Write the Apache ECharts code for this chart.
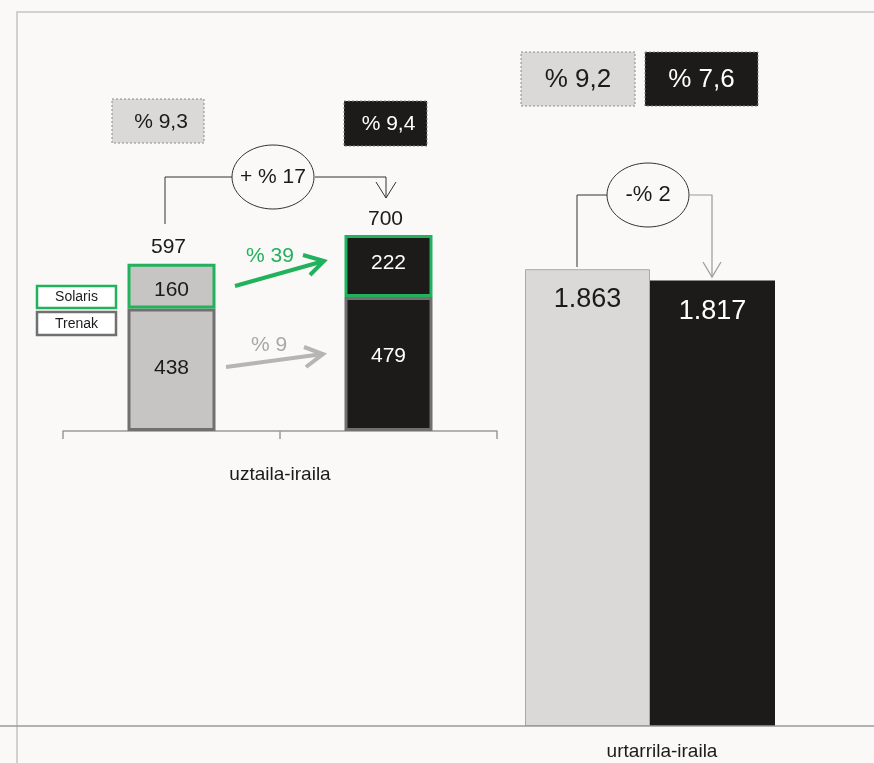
<!DOCTYPE html>
<html>
<head>
<meta charset="utf-8">
<script src="https://cdn.jsdelivr.net/npm/echarts@6/dist/echarts.min.js"></script>
<style>
html,body{margin:0;padding:0;background:#faf9f7;}
#c{width:874px;height:763px;}
</style>
</head>
<body>
<div id="c"></div>
<script>
// ---- data ----
const quarterLabel = 'uztaila-iraila';
const quarterPeriods = ['aurrekoa', 'aurtengoa'];
const trenak = [438, 479];
const solaris = [160, 222];
const quarterTotals = [597, 700];
const quarterShares = ['% 9,3', '% 9,4'];
const quarterChange = '+ % 17';
const solarisChange = '% 39';
const trenakChange = '% 9';

const ytdCategories = ['urtarrila-iraila'];
const ytdPrev = [1863];
const ytdCurr = [1817];
const ytdShares = ['% 9,2', '% 7,6'];
const ytdChange = '-% 2';

const legendNames = ['Solaris', 'Trenak'];

// ---- style ----
const FONT = '"Liberation Sans Narrow","Arial Narrow","Liberation Sans",Arial,sans-serif';
const BG = '#faf9f7';
const DARK = '#1c1b19';
const MID = '#c6c5c3';
const LIGHT = '#dad9d7';
const GREEN = '#22b15c';
const GREY = '#707070';
const qFill = [MID, DARK];
const qText = [DARK, '#ffffff'];
const trenakLabelShift = [[0, -2], [0, -8]];
const solarisLabelShift = [[0, 4], [0, -3]];

const fmt = v => String(v).replace(/\B(?=(\d{3})+(?!\d))/g, '.');

const chart = echarts.init(document.getElementById('c'));

function box(x, y, w, h, fill, txt, txtColor, size, dx) {
  return {
    type: 'group', z: 50,
    children: [
      {type: 'rect', shape: {x: x, y: y, width: w, height: h},
       style: {fill: fill, stroke: '#8a8a8a', lineWidth: 1, lineDash: [2, 2]}},
      {type: 'text', x: x + w / 2 + (dx || 0), y: y + h / 2 + 1,
       style: {text: txt, fill: txtColor, font: size + 'px ' + FONT, align: 'center', verticalAlign: 'middle'}}
    ]
  };
}

function ellipse(cx, cy, rx, ry, txt, size) {
  return {
    type: 'group', z: 50,
    children: [
      {type: 'ellipse', shape: {cx: cx, cy: cy, rx: rx, ry: ry},
       style: {fill: BG, stroke: '#333', lineWidth: 1}},
      {type: 'text', x: cx, y: cy,
       style: {text: txt, fill: DARK, font: size + 'px ' + FONT, align: 'center', verticalAlign: 'middle'}}
    ]
  };
}

function line(points, color, width) {
  return {type: 'polyline', z: 40, shape: {points: points},
          style: {stroke: color, lineWidth: width, fill: null}};
}

const graphics = [
  // frame
  line([[17, 763], [17, 12], [874, 12]], '#c4c4c4', 1.5),
  line([[0, 726], [874, 726]], '#9a9a9a', 1.5),

  // legend boxes
  {type: 'group', z: 50, children: [
    {type: 'rect', shape: {x: 37, y: 286, width: 79, height: 22}, style: {fill: '#fff', stroke: GREEN, lineWidth: 2.5}},
    {type: 'text', x: 76.5, y: 297.5, style: {text: legendNames[0], fill: DARK, font: '14px ' + FONT, align: 'center', verticalAlign: 'middle'}},
    {type: 'rect', shape: {x: 37, y: 312, width: 79, height: 23}, style: {fill: '#fff', stroke: GREY, lineWidth: 2.5}},
    {type: 'text', x: 76.5, y: 324, style: {text: legendNames[1], fill: DARK, font: '14px ' + FONT, align: 'center', verticalAlign: 'middle'}}
  ]},

  // share boxes
  box(112, 99, 92, 44, LIGHT, quarterShares[0], DARK, 21, 3),
  box(344, 101, 83, 45, DARK, quarterShares[1], '#fff', 21, 3),
  box(521, 52, 114, 54, LIGHT, ytdShares[0], DARK, 26, 0),
  box(645, 52, 113, 54, DARK, ytdShares[1], '#fff', 26, 0),

  // left connector
  line([[165, 224], [165, 177], [232, 177]], '#333', 1),
  line([[315, 177], [386, 177], [386, 198]], '#333', 1),
  line([[376, 182], [386, 198], [396, 182]], '#333', 1),
  ellipse(273, 177, 41, 32, quarterChange, 21),

  // right connector
  line([[577, 267], [577, 195], [607, 195]], '#333', 1),
  line([[689, 195], [712, 195], [712, 277]], '#999', 1.2),
  line([[703, 262], [712, 277], [721, 262]], '#999', 1.2),
  ellipse(648, 195, 41, 32, ytdChange, 22),

  // green arrow
  line([[235, 286], [324, 261]], GREEN, 4),
  line([[303, 255], [324, 261], [310, 275]], GREEN, 4),
  {type: 'text', z: 50, x: 270, y: 256, style: {text: solarisChange, fill: GREEN, font: '21px ' + FONT, align: 'center', verticalAlign: 'middle'}},

  // grey arrow
  line([[226, 367], [323, 354]], '#b5b5b5', 4),
  line([[304, 347], [323, 354], [306, 367]], '#b5b5b5', 4),
  {type: 'text', z: 50, x: 269, y: 345, style: {text: trenakChange, fill: '#a8a8a8', font: '21px ' + FONT, align: 'center', verticalAlign: 'middle'}}
];

chart.setOption({
  backgroundColor: BG,
  animation: false,
  textStyle: {fontFamily: FONT},
  grid: [
    {left: 63, right: 377, top: 90, bottom: 332},
    {left: 426, right: 0, top: 113, bottom: 37}
  ],
  xAxis: [
    {type: 'category', gridIndex: 0, data: quarterPeriods,
     name: quarterLabel, nameLocation: 'middle', nameGap: 34,
     nameTextStyle: {fontSize: 19, color: DARK, fontFamily: FONT},
     axisLine: {lineStyle: {color: '#9a9a9a', width: 1.5}},
     axisTick: {show: true, length: 8, lineStyle: {color: '#9a9a9a', width: 1.5}},
     axisLabel: {show: false}},
    {type: 'category', gridIndex: 1, data: ytdCategories,
     axisLine: {show: false}, axisTick: {show: false},
     axisLabel: {show: true, fontSize: 19, color: DARK, margin: 16, fontFamily: FONT, padding: [0, 0, 0, 24]}}
  ],
  yAxis: [
    {type: 'value', gridIndex: 0, min: 0, max: 1220, show: false},
    {type: 'value', gridIndex: 1, min: 0, max: 2500, show: false}
  ],
  series: [
    {name: 'Trenak', type: 'bar', stack: 'q', xAxisIndex: 0, yAxisIndex: 0, barWidth: 88,
     data: trenak.map((v, i) => ({value: v,
       itemStyle: {color: qFill[i], borderColor: GREY, borderWidth: 3},
       label: {color: qText[i], offset: trenakLabelShift[i]}})),
     label: {show: true, position: 'inside', fontSize: 21, fontFamily: FONT}},
    {name: 'Solaris', type: 'bar', stack: 'q', xAxisIndex: 0, yAxisIndex: 0, barWidth: 88,
     data: solaris.map((v, i) => ({value: v,
       itemStyle: {color: qFill[i], borderColor: GREEN, borderWidth: 3},
       label: {color: qText[i], offset: solarisLabelShift[i]}})),
     label: {show: true, position: 'inside', fontSize: 21, fontFamily: FONT}},
    {name: 'Guztira', type: 'scatter', xAxisIndex: 0, yAxisIndex: 0, symbolSize: 0,
     itemStyle: {opacity: 1},
     data: quarterTotals.map((v, i) => [i, v]),
     label: {show: true, position: 'top', distance: 6, fontSize: 21, color: DARK, fontFamily: FONT,
       offset: [-3, 0], formatter: p => fmt(p.value[1])}},
    {name: 'aurrekoa', type: 'bar', xAxisIndex: 1, yAxisIndex: 1, barWidth: 125, barGap: '0%',
     data: ytdPrev,
     itemStyle: {color: LIGHT, borderColor: '#a8a8a8', borderWidth: 1},
     label: {show: true, position: 'insideTop', distance: 17, fontSize: 27, color: DARK, fontFamily: FONT,
       formatter: p => fmt(p.value)}},
    {name: 'aurtengoa', type: 'bar', xAxisIndex: 1, yAxisIndex: 1, barWidth: 125, barGap: '0%',
     data: ytdCurr,
     itemStyle: {color: DARK},
     label: {show: true, position: 'insideTop', distance: 18, fontSize: 27, color: '#fff', fontFamily: FONT,
       formatter: p => fmt(p.value)}}
  ],
  graphic: graphics
});
</script>
</body>
</html>
